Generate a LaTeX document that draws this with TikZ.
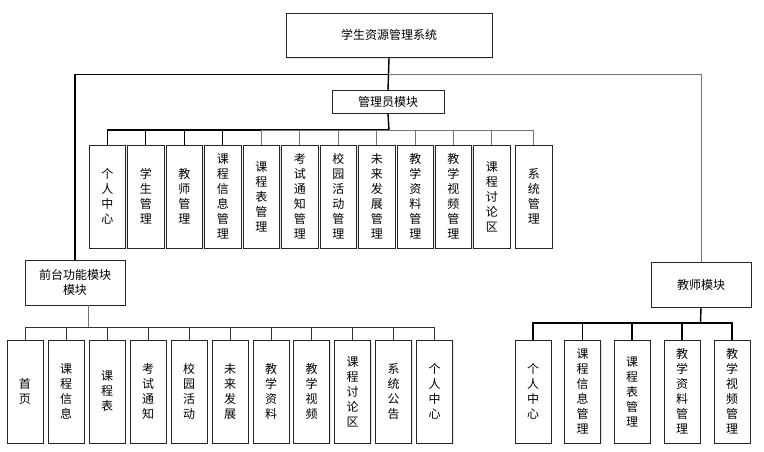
\documentclass[tikz,border=0pt]{standalone}
\usepackage{fontspec}
\newfontfamily\cjk{Noto Sans CJK SC}
\usetikzlibrary{shadows}
\begin{document}
\begin{tikzpicture}[x=1pt,y=-1pt,
  box/.style={draw=black!85,line width=0.9pt,fill=white,inner sep=0pt,align=center,
    font=\cjk\fontsize{12}{15}\selectfont,
    drop shadow={shadow xshift=1.2pt,shadow yshift=-1.2pt,opacity=0.25,fill=black!40}},
  vbox/.style={box,minimum width=36.5pt,minimum height=103pt},
  thick line/.style={draw=black,line width=1.4pt},
  thin line/.style={draw=black!80,line width=0.9pt},
  gray line/.style={draw=black!55,line width=1pt}]
\useasboundingbox (0,0) rectangle (764,451);
% top level
\node[box,minimum width=206pt,minimum height=44.5pt] (top) at (389,35.3) {学生资源管理系统};
\node[box,minimum width=112pt,minimum height=22.5pt] (adm) at (388,102) {管理员模块};
\node[box,minimum width=100pt,minimum height=45pt] (front) at (75,282.5) {前台功能模块\\模块};
\node[box,minimum width=100pt,minimum height=45pt] (teach) at (701,284.5) {教师模块};
\coordinate (tb) at (389,74.5);
\coordinate (ab) at (389,130);
\coordinate (fb) at (88,327);
\coordinate (teb) at (700.5,323);
% admin children
\foreach \n/\l/\t in {a1/89/个\\人\\中\\心, a2/127.5/学\\生\\管\\理, a3/166/教\\师\\管\\理,
  a4/204.5/课\\程\\信\\息\\管\\理, a5/243/课\\程\\表\\管\\理, a6/281.5/考\\试\\通\\知\\管\\理,
  a7/320/校\\园\\活\\动\\管\\理, a8/358.5/未\\来\\发\\展\\管\\理, a9/397/教\\学\\资\\料\\管\\理,
  a10/435/教\\学\\视\\频\\管\\理, a11/473.5/课\\程\\讨\\论\\区, a12/515.5/系\\统\\管\\理}
  \node[vbox] (\n) at (\l+18.25,196.5) {\t};
% front children
\foreach \n/\l/\t in {f1/7/首\\页, f2/48/课\\程\\信\\息, f3/89/课\\程\\表, f4/130/考\\试\\通\\知,
  f5/171/校\\园\\活\\动, f6/212/未\\来\\发\\展, f7/253/教\\学\\资\\料, f8/293.5/教\\学\\视\\频,
  f9/334.5/课\\程\\讨\\论\\区, f10/375.5/系\\统\\公\\告, f11/416.5/个\\人\\中\\心}
  \node[vbox,minimum width=36pt] (\n) at (\l+18,391.5) {\t};
% teacher children
\foreach \n/\l/\t in {t1/515/个\\人\\中\\心, t2/564.5/课\\程\\信\\息\\管\\理, t3/614/课\\程\\表\\管\\理,
  t4/664/教\\学\\资\\料\\管\\理, t5/714/教\\学\\视\\频\\管\\理}
  \node[vbox,minimum width=36pt] (\n) at (\l+18,391.5) {\t};
% connectors top
\draw[thick line] (top.south) -- (adm.north);
\draw[thick line] (tb) -| (front.north);
\draw[gray line] (tb) -| (teach.north);
% admin bus
\draw[thick line] (adm.south) -- (ab);
\foreach \n in {a1,a2,a3,a4} \draw[thick line] (ab) -| (\n.north);
\foreach \n in {a5,a6,a7,a8,a9,a10,a11,a12} \draw[gray line] (ab) -| (\n.north);
% front bus
\draw[gray line] ([xshift=13pt]front.south) -- (fb);
\foreach \n in {f1,f2,f3,f4,f5,f6,f7,f8,f9,f10,f11} \draw[thin line] (fb) -| (\n.north);
% teacher bus
\draw[thick line] (teach.south) -- (teb);
\foreach \n in {t1,t2,t3,t4,t5} \draw[thick line] (teb) -| (\n.north);
\end{tikzpicture}
\end{document}
